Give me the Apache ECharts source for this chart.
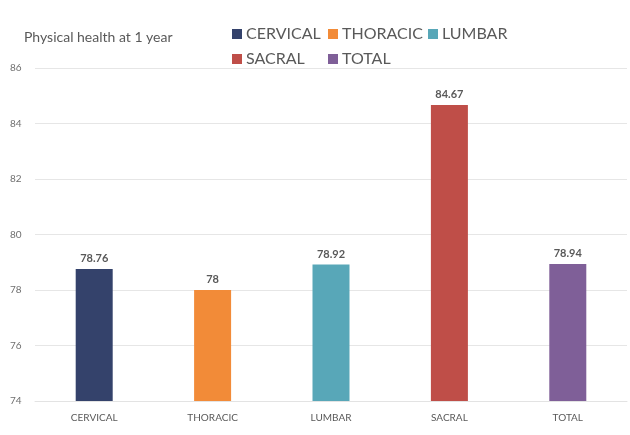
<!DOCTYPE html>
<html>
<head>
<meta charset="utf-8">
<script src="https://cdn.jsdelivr.net/npm/echarts@6/dist/echarts.min.js"></script>
<style>
  html, body { margin: 0; padding: 0; background: #fff; }
  #chart { width: 630px; height: 435px; }
</style>
</head>
<body>
<div id="chart"></div>
<script>
const categories = ['CERVICAL', 'THORACIC', 'LUMBAR', 'SACRAL', 'TOTAL'];
const values = [78.76, 78, 78.92, 84.67, 78.94];
const colors = ['#34426b', '#f28b38', '#58a7b8', '#bf4e48', '#7f5f98'];
const yTicks = { min: 74, max: 86, step: 2 };

var chartDom = document.getElementById('chart');
var myChart = echarts.init(chartDom);

// one series per category so each gets its own legend entry
var series = categories.map(function (name, i) {
  return {
    name: name,
    type: 'bar',
    barWidth: 37,
    barGap: '-100%',
    itemStyle: { color: colors[i] },
    label: {
      show: true,
      position: 'top',
      distance: 5,
      fontSize: 11,
      fontWeight: 'bold',
      color: '#595959'
    },
    data: categories.map(function (c, j) { return j === i ? values[i] : '-'; })
  };
});

// legend laid out as a 3 + 2 grid, one legend per entry so columns line up
var legendSpots = [[232, 26], [328, 26], [428, 26], [232, 51], [328, 51]];
var legends = categories.map(function (name, i) {
  return {
    data: [name],
    left: legendSpots[i][0],
    top: legendSpots[i][1],
    padding: 0,
    icon: 'rect',
    itemWidth: 10,
    itemHeight: 10,
    itemGap: 0,
    textStyle: { fontSize: 16, color: '#595959', fontFamily: 'Lato', padding: [0, 0, 0, -1] }
  };
});

var option = {
  animation: false,
  textStyle: { fontFamily: 'Lato' },
  title: {
    text: 'Physical health at 1 year',
    left: 19,
    top: 25,
    textStyle: { fontSize: 14, fontWeight: 'normal', color: '#595959', fontFamily: 'Lato' }
  },
  legend: legends,
  grid: { left: 35, right: 3, top: 68, bottom: 34 },
  xAxis: {
    type: 'category',
    data: categories,
    axisTick: { show: false },
    axisLine: { lineStyle: { color: '#e3e3e3' } },
    axisLabel: { fontSize: 10, color: '#595959', margin: 12 }
  },
  yAxis: {
    type: 'value',
    min: yTicks.min,
    max: yTicks.max,
    interval: yTicks.step,
    axisLine: { show: false },
    axisTick: { show: false },
    axisLabel: { fontSize: 10, color: '#6f6f6f', margin: 25, align: 'left' },
    splitLine: { lineStyle: { color: '#e6e6e6' } }
  },
  series: series
};

option && myChart.setOption(option);
</script>
</body>
</html>
